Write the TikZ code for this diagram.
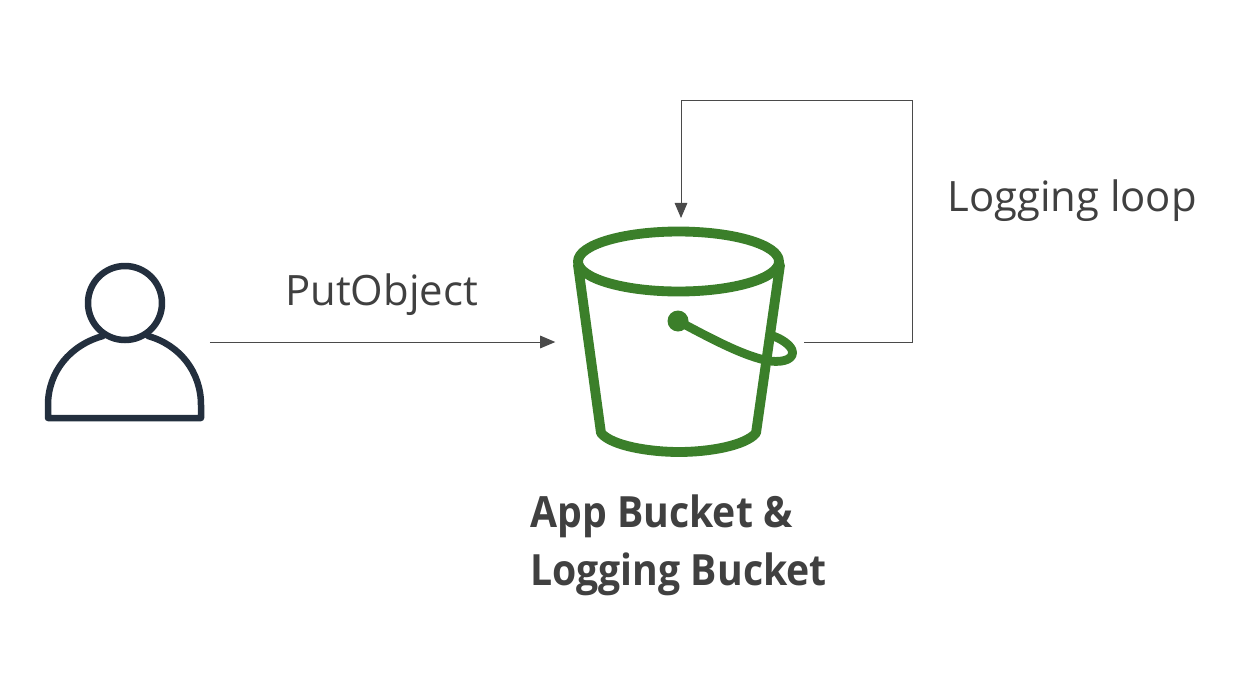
\documentclass[tikz,border=0pt]{standalone}
\usepackage{fontspec}
\setmainfont{Open Sans}
\newfontfamily\namefont[FakeStretch=0.91]{Open Sans}
\usetikzlibrary{arrows.meta}
\definecolor{bucketgreen}{HTML}{3B7F2A}
\definecolor{userink}{HTML}{232F3E}
\definecolor{textink}{HTML}{404040}
\definecolor{lineink}{HTML}{4A4A4A}
\tikzset{
  anchorbox/.style={inner sep=0pt,outer sep=0pt,minimum size=#1},
  flow/.style={draw=lineink,line width=0.55pt,-{Triangle[length=8.6pt,width=7.2pt,fill=lineink]}},
  bucketline/.style={draw=bucketgreen,line width=5.6pt,line join=round,line cap=round},
  userline/.style={draw=userink,line width=3.7pt,line join=round,line cap=round},
  label/.style={text=textink,anchor=base west,inner sep=0pt,font=\fontsize{23.8}{28}\selectfont},
  boldlabel/.style={label,font=\fontsize{24.5}{28}\selectfont\namefont\bfseries}
}
\begin{document}
\begin{tikzpicture}[x=0.02cm,y=-0.02cm]
\useasboundingbox (0,0) rectangle (1234,690);
% user icon
\node[anchorbox=3.4cm] (user) at (125,342) {};
\draw[userline] (125,303) circle[radius=37];
\draw[userline] (103,336) .. controls (70,345) and (48,372) .. (48,405) -- (48,418) -- (201,418) -- (201,405) .. controls (201,372) and (180,345) .. (148,336);
% bucket icon
\node[anchorbox=4.96cm] (bucket) at (681,342) {};
\draw[bucketline] (678.5,261.5) ellipse[x radius=100.5,y radius=30];
\draw[bucketline] (578,265) -- (601,433) .. controls (612,446) and (650,452) .. (679,452) .. controls (708,452) and (745,446) .. (756,433) -- (780,265);
\fill[bucketgreen] (678,321) circle[radius=10.5];
\draw[bucketline,line width=5pt] (678,321) .. controls (710,338) and (745,357) .. (770,361) .. controls (785,363) and (795,358) .. (792,350) .. controls (790,345) and (782,339) .. (773,336);
% connectors
\coordinate (loopA) at (912,342);
\coordinate (loopB) at (912,100);
\coordinate (loopC) at (681,100);
\draw[flow] (user.east) -- ([xshift=-1pt]bucket.west);
\draw[flow] ([xshift=-0.5pt]bucket.east) -- (loopA) -- (loopB) -- (loopC) -- (bucket.north);
% labels
\node[label] (put) at (285,305) {PutObject};
\node[label] (loop) at (947,211) {Logging loop};
\node[boldlabel] (name1) at (530,527) {App Bucket \&};
\node[boldlabel] (name2) at (530,585) {Logging Bucket};
\end{tikzpicture}
\end{document}
